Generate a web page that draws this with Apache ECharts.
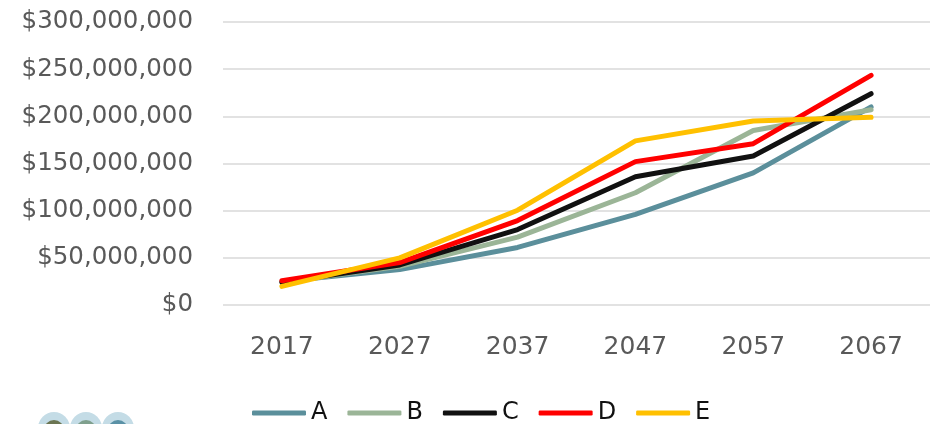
<!DOCTYPE html>
<html>
<head>
<meta charset="utf-8">
<script src="https://cdn.jsdelivr.net/npm/echarts@6/dist/echarts.min.js"></script>
<style>
  html, body { margin: 0; padding: 0; background: #fff; }
  #chart { width: 932px; height: 424px; }
</style>
</head>
<body>
<div id="chart"></div>
<script>
  // categories and series values
  const years = ['2017', '2027', '2037', '2047', '2057', '2067'];
  const seriesA = [25000000, 37500000, 61000000, 96000000, 140000000, 210000000];
  const seriesB = [24000000, 41000000, 72000000, 119000000, 185000000, 207000000];
  const seriesC = [24000000, 42500000, 80000000, 136000000, 158000000, 224000000];
  const seriesD = [25700000, 45000000, 89500000, 152000000, 171000000, 243500000];
  const seriesE = [19700000, 50000000, 100500000, 174000000, 195000000, 199000000];
  const seriesNames = ['A', 'B', 'C', 'D', 'E'];
  const seriesColors = ['#5b8f9b', '#9bb597', '#111111', '#ff0000', '#ffc000'];

  const chart = echarts.init(document.getElementById('chart'));
  const fontFamily = '"DejaVu Sans", sans-serif';

  function money (v) {
    return '$' + v.toLocaleString('en-US');
  }

  const allData = [seriesA, seriesB, seriesC, seriesD, seriesE];

  chart.setOption({
    animation: false,
    grid: { // 绘图区
      left: 223,
      right: 2,
      top: 22,
      bottom: 119
    },
    legend: {
      data: seriesNames,
      top: 396,
      left: 247,
      itemWidth: 54,
      itemHeight: 5,
      itemGap: 20,
      icon: 'roundRect',
      textStyle: { fontFamily: fontFamily, fontSize: 24, color: '#111' }
    },
    xAxis: {
      type: 'category',
      data: years,
      boundaryGap: true,
      axisLine: { show: false },
      axisTick: { show: false },
      axisLabel: { fontFamily: fontFamily, fontSize: 25, color: '#595959', margin: 30 }
    },
    yAxis: {
      type: 'value',
      min: 0,
      max: 300000000,
      interval: 50000000,
      axisLine: { show: false },
      axisTick: { show: false },
      splitLine: { lineStyle: { color: '#d9d9d9', width: 1.5 } },
      axisLabel: {
        fontFamily: fontFamily, fontSize: 24.5, color: '#595959', margin: 30,
        formatter: money
      }
    },
    graphic: [
      { type: 'circle', shape: { cx: 54, cy: 428, r: 16 }, style: { fill: '#c4dce6' } },
      { type: 'circle', shape: { cx: 86, cy: 428, r: 16 }, style: { fill: '#c4dce6' } },
      { type: 'circle', shape: { cx: 118, cy: 428, r: 16 }, style: { fill: '#c4dce6' } },
      { type: 'circle', shape: { cx: 54, cy: 430, r: 10 }, style: { fill: '#6b7552' } },
      { type: 'circle', shape: { cx: 86, cy: 430, r: 10 }, style: { fill: '#7fa08e' } },
      { type: 'circle', shape: { cx: 118, cy: 430, r: 10 }, style: { fill: '#5a91a6' } }
    ],
    series: seriesNames.map((name, i) => ({
      name: name,
      type: 'line',
      data: allData[i],
      symbol: 'none',
      color: seriesColors[i],
      lineStyle: { width: 5, color: seriesColors[i], cap: 'round', join: 'round' }
    }))
  });
</script>
</body>
</html>
